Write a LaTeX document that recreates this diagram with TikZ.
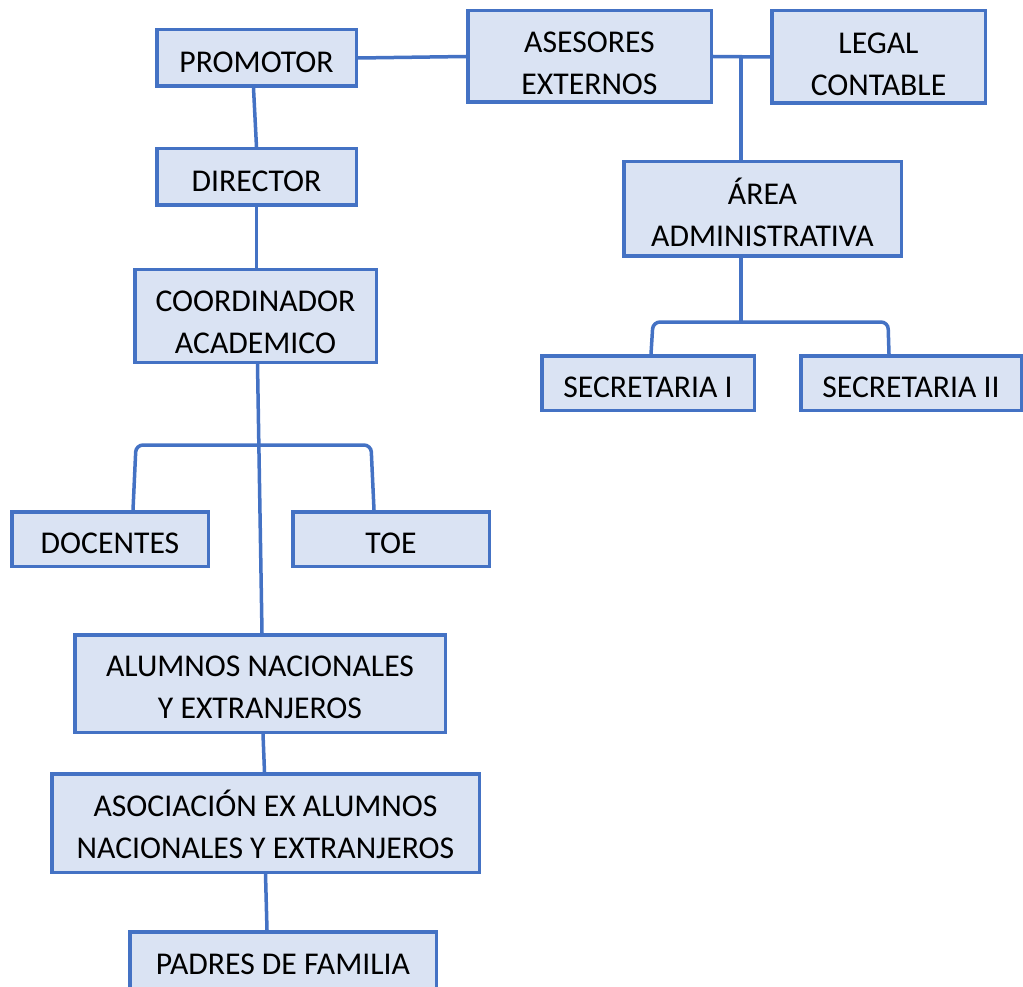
\documentclass[tikz,border=0pt]{standalone}
\usepackage{fontspec}
\setmainfont{Carlito}
\usetikzlibrary{calc}
\definecolor{boxfill}{HTML}{DAE3F3}
\definecolor{boxline}{HTML}{4472C4}
\newcommand\ObBox[7]{\node[box, minimum width={#4-#2-3.5}, minimum height={#5-#3-3.5},
  label={[boxtext, yshift=-#7pt]center:{#6}}] (#1) at ({(#2+#4)/2},{(#3+#5)/2}) {};}
\begin{document}
\begin{tikzpicture}[x=1pt,y=-1pt,
  box/.style={draw=boxline, fill=boxfill, line width=3.5pt, inner sep=0pt},
  boxtext/.style={inner sep=0pt, align=center, text=black, font=\fontsize{31.7}{42}\selectfont},
  conn/.style={draw=boxline, line width=3.5pt}]
\useasboundingbox (0,0) rectangle (1023,987);
% boxes
\ObBox{prom}{155}{28}{358}{88}{PROMOTOR}{4}
\ObBox{dir}{155}{147}{358}{207}{DIRECTOR}{4}
\ObBox{ase}{466}{9}{713}{104}{ASESORES\\EXTERNOS}{7}
\ObBox{leg}{770}{9}{987}{105}{LEGAL\\CONTABLE}{7}
\ObBox{area}{622}{160}{903}{258}{ÁREA\\ADMINISTRATIVA}{3.5}
\ObBox{sec1}{540}{354}{756}{412}{SECRETARIA I}{4}
\ObBox{sec2}{799}{354}{1023}{412}{SECRETARIA II}{4}
\ObBox{coord}{133}{268}{378}{364}{COORDINADOR\\ACADEMICO}{6}
\ObBox{doc}{10}{510}{210}{568}{DOCENTES}{4}
\ObBox{toe}{291}{510}{491}{568}{TOE}{4}
\ObBox{alum}{73}{633}{447}{734}{ALUMNOS NACIONALES\\Y EXTRANJEROS}{3.5}
\ObBox{asoc}{50}{772}{481}{874}{ASOCIACIÓN EX ALUMNOS\\NACIONALES Y EXTRANJEROS}{1}
\ObBox{pad}{128}{930}{438}{990}{PADRES DE FAMILIA}{4}
% connectors left
\draw[conn] (prom.east) -- (ase.west);
\draw[conn] ($(prom.south)+(-3,0)$) -- (dir.north);
\draw[conn] (dir.south) -- ($(coord.north)+(1,0)$);
\draw[conn] ($(coord.south)+(2,0)$) -- ($(alum.north)+(2,0)$);
\coordinate (bl) at (136,445);
\coordinate (br) at (371,445);
\draw[conn, rounded corners=7pt] ($(doc.north)+(23,0)$) -- (bl) -- (br) -- ($(toe.north)+(-17,0)$);
\draw[conn] ($(alum.south)+(3,0)$) -- ($(asoc.north)+(-1,0)$);
\draw[conn] (asoc.south) -- ($(pad.north)+(-16,0)$);
% connectors right
\draw[conn] (ase.east) -- (leg.west);
\coordinate (j) at (741,55);
\draw[conn] (j) -- (j |- area.north);
\coordinate (sj) at (741,322);
\draw[conn] (j |- area.south) -- (sj);
\coordinate (s1) at (653,322);
\coordinate (s2) at (888,322);
\draw[conn, rounded corners=7pt] ($(sec1.north)+(3,0)$) -- (s1) -- (s2) -- ($(sec2.north)+(-22,0)$);
\end{tikzpicture}
\end{document}
